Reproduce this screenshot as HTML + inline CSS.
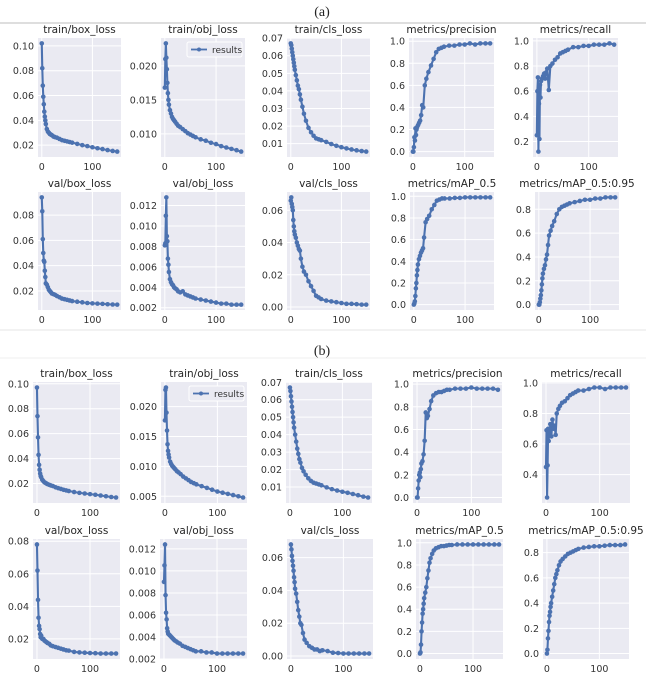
<!DOCTYPE html>
<html><head><meta charset="utf-8">
<style>
html,body{margin:0;padding:0;background:#fff;}
svg{display:block;font-family:"DejaVu Sans","Liberation Sans",sans-serif;}
</style></head>
<body>
<svg id="fig" width="646" height="700" viewBox="0 0 646 700" xmlns="http://www.w3.org/2000/svg">
<rect width="646" height="700" fill="#fff"/>
<text x="322" y="16" text-anchor="middle" font-family="Liberation Serif, serif" font-size="14" fill="#222">(a)</text>
<line x1="0" y1="23" x2="646" y2="23" stroke="#d4d4d4" stroke-width="1.5"/>
<line x1="0" y1="330" x2="646" y2="330" stroke="#e6e6e6" stroke-width="1"/>
<text x="322" y="355" text-anchor="middle" font-family="Liberation Serif, serif" font-size="14" fill="#222">(b)</text>
<line x1="0" y1="358" x2="646" y2="358" stroke="#efefef" stroke-width="1"/>
<g id="plots"></g>
</svg>
<script>
const epochs = [0,1,2,3,4,5,6,7,8,10,12,14,16,18,20,23,26,30,35,40,45,50,55,60,70,80,90,100,110,120,130,140,149];
const xTicks = [0,100];
const titles = ["train/box_loss","train/obj_loss","train/cls_loss","metrics/precision","metrics/recall","val/box_loss","val/obj_loss","val/cls_loss","metrics/mAP_0.5","metrics/mAP_0.5:0.95"];

const aTrainBox = [0.102,0.082,0.068,0.059,0.053,0.047,0.043,0.040,0.037,0.033,0.031,0.030,0.029,0.0285,0.028,0.027,0.0265,0.026,0.025,0.024,0.0235,0.023,0.0225,0.022,0.021,0.020,0.0192,0.0183,0.0175,0.0168,0.016,0.0153,0.0148];
const aTrainObj = [0.0168,0.021,0.0233,0.0212,0.0195,0.0175,0.016,0.015,0.0143,0.0135,0.013,0.0125,0.0122,0.012,0.0118,0.0115,0.0112,0.011,0.0107,0.0104,0.0101,0.0099,0.0097,0.0095,0.0092,0.009,0.0087,0.0085,0.0082,0.008,0.0078,0.0076,0.0074];
const aTrainCls = [0.067,0.066,0.064,0.062,0.060,0.058,0.056,0.054,0.052,0.049,0.046,0.043,0.041,0.038,0.035,0.031,0.027,0.023,0.019,0.0165,0.0145,0.013,0.0125,0.012,0.011,0.0098,0.0088,0.008,0.0073,0.0067,0.0062,0.0058,0.0055];
const aPrecision = [0,0,0.04,0.13,0.1,0.21,0.15,0.2,0.22,0.24,0.26,0.28,0.33,0.42,0.4,0.6,0.66,0.72,0.78,0.84,0.9,0.93,0.94,0.95,0.96,0.96,0.97,0.97,0.98,0.97,0.98,0.98,0.98];
const aRecall = [0.25,0.6,0.71,0.12,0.5,0.22,0.65,0.55,0.68,0.7,0.72,0.74,0.7,0.75,0.78,0.61,0.8,0.82,0.85,0.87,0.9,0.91,0.92,0.93,0.95,0.95,0.96,0.96,0.97,0.97,0.97,0.98,0.97];
const aValBox = [0.094,0.083,0.061,0.05,0.044,0.043,0.036,0.031,0.026,0.025,0.023,0.021,0.02,0.019,0.018,0.0175,0.017,0.016,0.015,0.014,0.0135,0.013,0.0125,0.012,0.0115,0.011,0.0105,0.0102,0.01,0.0098,0.0095,0.0093,0.0092];
const aValObj = [0.0081,0.0083,0.011,0.0128,0.009,0.0085,0.0068,0.0062,0.0055,0.0048,0.0045,0.0043,0.0042,0.004,0.0039,0.0038,0.0036,0.0035,0.0036,0.0033,0.0032,0.0031,0.003,0.0029,0.0028,0.0027,0.0026,0.0025,0.0024,0.0024,0.0023,0.0023,0.0023];
const aValCls = [0.066,0.068,0.064,0.062,0.06,0.054,0.05,0.047,0.045,0.043,0.04,0.038,0.036,0.035,0.03,0.025,0.022,0.02,0.016,0.013,0.01,0.007,0.006,0.005,0.004,0.0035,0.003,0.0025,0.002,0.002,0.0018,0.0015,0.0015];
const aMap50 = [0,0.01,0.03,0.08,0.15,0.2,0.27,0.32,0.37,0.42,0.45,0.48,0.5,0.52,0.62,0.76,0.79,0.82,0.88,0.92,0.96,0.97,0.98,0.98,0.98,0.985,0.985,0.99,0.99,0.99,0.99,0.99,0.99];
const aMap5095 = [0,0,0.02,0.05,0.08,0.12,0.17,0.22,0.26,0.3,0.33,0.38,0.42,0.5,0.58,0.62,0.66,0.7,0.76,0.8,0.82,0.83,0.84,0.85,0.86,0.87,0.88,0.88,0.89,0.89,0.9,0.9,0.9];

const bTrainBox = [0.097,0.074,0.057,0.043,0.035,0.031,0.028,0.026,0.025,0.023,0.022,0.021,0.0205,0.02,0.0195,0.019,0.0185,0.018,0.017,0.0163,0.0157,0.015,0.0145,0.014,0.0132,0.0125,0.012,0.0115,0.011,0.0104,0.0098,0.0092,0.0088];
const bTrainObj = [0.0177,0.0228,0.0232,0.019,0.016,0.0137,0.0126,0.012,0.0115,0.0108,0.0104,0.0101,0.0099,0.0097,0.0095,0.0092,0.009,0.0087,0.0083,0.008,0.0077,0.0074,0.0072,0.007,0.0067,0.0064,0.0061,0.0058,0.0056,0.0054,0.0052,0.005,0.0048];
const bTrainCls = [0.067,0.065,0.062,0.059,0.056,0.053,0.05,0.047,0.044,0.04,0.036,0.032,0.029,0.026,0.024,0.021,0.019,0.017,0.015,0.0135,0.0125,0.012,0.0115,0.011,0.0098,0.0088,0.008,0.0073,0.0067,0.006,0.0053,0.0045,0.004];
const bPrecision = [0,0,0.08,0.15,0.2,0.22,0.18,0.25,0.3,0.32,0.38,0.5,0.75,0.7,0.72,0.78,0.85,0.9,0.92,0.93,0.93,0.94,0.95,0.95,0.96,0.96,0.96,0.97,0.96,0.96,0.96,0.96,0.95];
const bRecall = [0.45,0.69,0.25,0.46,0.7,0.62,0.7,0.66,0.73,0.65,0.76,0.7,0.72,0.66,0.8,0.83,0.85,0.87,0.88,0.9,0.92,0.93,0.94,0.95,0.95,0.96,0.97,0.97,0.96,0.97,0.97,0.97,0.97];
const bValBox = [0.078,0.062,0.044,0.033,0.028,0.026,0.023,0.021,0.022,0.02,0.02,0.019,0.0185,0.018,0.0175,0.017,0.016,0.0155,0.015,0.0145,0.014,0.0135,0.013,0.0128,0.012,0.0117,0.0115,0.0113,0.0112,0.011,0.011,0.011,0.011];
const bValObj = [0.009,0.0105,0.0124,0.0078,0.0062,0.0056,0.0048,0.0045,0.0043,0.0042,0.0041,0.004,0.0039,0.0038,0.0037,0.0036,0.0035,0.0034,0.0032,0.0031,0.003,0.0029,0.0028,0.0027,0.0027,0.0026,0.0026,0.0025,0.0025,0.0025,0.0025,0.0025,0.0025];
const bValCls = [0.068,0.065,0.061,0.058,0.055,0.052,0.048,0.045,0.041,0.038,0.033,0.028,0.024,0.02,0.019,0.014,0.01,0.008,0.006,0.005,0.004,0.004,0.003,0.0035,0.003,0.002,0.0018,0.0015,0.0015,0.0015,0.0015,0.0015,0.0015];
const bMap50 = [0,0.01,0.08,0.2,0.28,0.36,0.4,0.45,0.5,0.55,0.6,0.68,0.75,0.82,0.86,0.9,0.93,0.95,0.96,0.97,0.97,0.975,0.98,0.98,0.985,0.985,0.985,0.985,0.985,0.985,0.985,0.985,0.985];
const bMap5095 = [0,0.03,0.12,0.18,0.25,0.3,0.33,0.37,0.4,0.45,0.5,0.55,0.6,0.63,0.66,0.7,0.73,0.75,0.77,0.79,0.8,0.81,0.82,0.83,0.84,0.845,0.85,0.85,0.855,0.86,0.86,0.86,0.865];

const yTicksBox = ["0.02","0.04","0.06","0.08","0.10"];
const yTicksBoxVal = ["0.02","0.04","0.06","0.08"];
const yTicksObjA = ["0.010","0.015","0.020"];
const yTicksObjB = ["0.005","0.010","0.015","0.020"];
const yTicksCls = ["0.01","0.02","0.03","0.04","0.05","0.06","0.07"];
const yTicksUnit = ["0.0","0.2","0.4","0.6","0.8","1.0"];
const yTicksRecallA = ["0.2","0.4","0.6","0.8","1.0"];
const yTicksRecallB = ["0.4","0.6","0.8","1.0"];
const yTicksValObj = ["0.002","0.004","0.006","0.008","0.010","0.012"];
const yTicksValCls = ["0.00","0.02","0.04","0.06"];
const yTicksMap95 = ["0.0","0.2","0.4","0.6","0.8"];

const seriesList = [aTrainBox,aTrainObj,aTrainCls,aPrecision,aRecall,aValBox,aValObj,aValCls,aMap50,aMap5095,
                    bTrainBox,bTrainObj,bTrainCls,bPrecision,bRecall,bValBox,bValObj,bValCls,bMap50,bMap5095];
const tickList = [yTicksBox,yTicksObjA,yTicksCls,yTicksUnit,yTicksRecallA,yTicksBoxVal,yTicksValObj,yTicksValCls,yTicksUnit,yTicksMap95,
                  yTicksBox,yTicksObjB,yTicksCls,yTicksUnit,yTicksRecallB,yTicksBoxVal,yTicksValObj,yTicksValCls,yTicksUnit,yTicksMap95];

const rowsY = [[38,157],[192,310],[382,503],[539,659]];
const colsX = [
  [[38,121],[161,245],[287,370],[409,494],[533,618]],
  [[38,121],[161,245],[287,370],[410,494],[535,619]],
  [[33,120],[161,247],[286,372],[413,502],[542,630]],
  [[33,120],[160,247],[287,373],[416,503],[543,629]]
];
const NS = "http://www.w3.org/2000/svg";
const root = document.getElementById('plots');
function mk(tag, attrs, parent){
  const e = document.createElementNS(NS, tag);
  for (const k in attrs) e.setAttribute(k, attrs[k]);
  parent.appendChild(e);
  return e;
}
const slug = s => s.replace(/[^a-z0-9]+/gi,'-').replace(/-+$/,'').toLowerCase();

for (let i = 0; i < 20; i++) {
  const r = Math.floor(i/5), c = i%5;
  const panel = r < 2 ? 'a' : 'b';
  const [x0,x1] = colsX[r][c], [y0,y1] = rowsY[r];
  const data = seriesList[i];
  const ticks = tickList[i];
  let mn = Math.min(...data), mx = Math.max(...data);
  const pad = (mx-mn)*0.05; mn -= pad; mx += pad;
  const ex0 = -7.45, ex1 = 156.45;
  const sx = v => x0 + (v-ex0)/(ex1-ex0)*(x1-x0);
  const sy = v => y1 - (v-mn)/(mx-mn)*(y1-y0);
  const g = mk('g', {}, root);
  
  
  const bg = mk('rect', {x:x0,y:y0,width:x1-x0,height:y1-y0,fill:'#eaeaf2'}, g);
  
  
  ticks.forEach(t => {
    const v = parseFloat(t), y = sy(v);
    if (y < y0-0.5 || y > y1+0.5) return;
    mk('line', {x1:x0,x2:x1,y1:y,y2:y,stroke:'#fff','stroke-width':1}, g);
    const tl = mk('text', {x:x0-4,y:y+3.5,'text-anchor':'end','font-size':9.5,fill:'#333'}, g);
    
    
    tl.textContent = t;
  });
  xTicks.forEach(t => {
    const x = sx(t);
    mk('line', {x1:x,x2:x,y1:y0,y2:y1,stroke:'#fff','stroke-width':1}, g);
    const tl = mk('text', {x:x,y:y1+13,'text-anchor':'middle','font-size':9.5,fill:'#333'}, g);
    
    
    tl.textContent = String(t);
  });
  const tt = mk('text', {x:(x0+x1)/2,y:y0-5,'text-anchor':'middle','font-size':10.5,fill:'#262626'}, g);
  
  
  tt.textContent = titles[i%10];
  const pts = data.map((v,k) => sx(epochs[k]).toFixed(2)+','+sy(v).toFixed(2)).join(' ');
  const line = mk('polyline', {points:pts,fill:'none',stroke:'#4c72b0','stroke-width':2.1,'stroke-linejoin':'round'}, g);
  
  
  data.forEach((v,k) => {
    const m = mk('circle', {cx:sx(epochs[k]),cy:sy(v),r:2.3,fill:'#4c72b0'}, g);
    
    
  });
  if (i%10 === 1) {
    const lg = mk('g', {}, g);
    
    
    const lx = x1-58, ly = y0+4;
    mk('rect', {x:lx,y:ly,width:55,height:15,rx:2,fill:'#eaeaf2',stroke:'#fff','stroke-width':1}, lg);
    mk('line', {x1:lx+4,x2:lx+20,y1:ly+7.5,y2:ly+7.5,stroke:'#4c72b0','stroke-width':1.8}, lg);
    mk('circle', {cx:lx+12,cy:ly+7.5,r:2,fill:'#4c72b0'}, lg);
    const lt = mk('text', {x:lx+25,y:ly+11,'font-size':9,fill:'#333'}, lg);
    
    
    lt.textContent = 'results';
  }
}
</script>
</body></html>
